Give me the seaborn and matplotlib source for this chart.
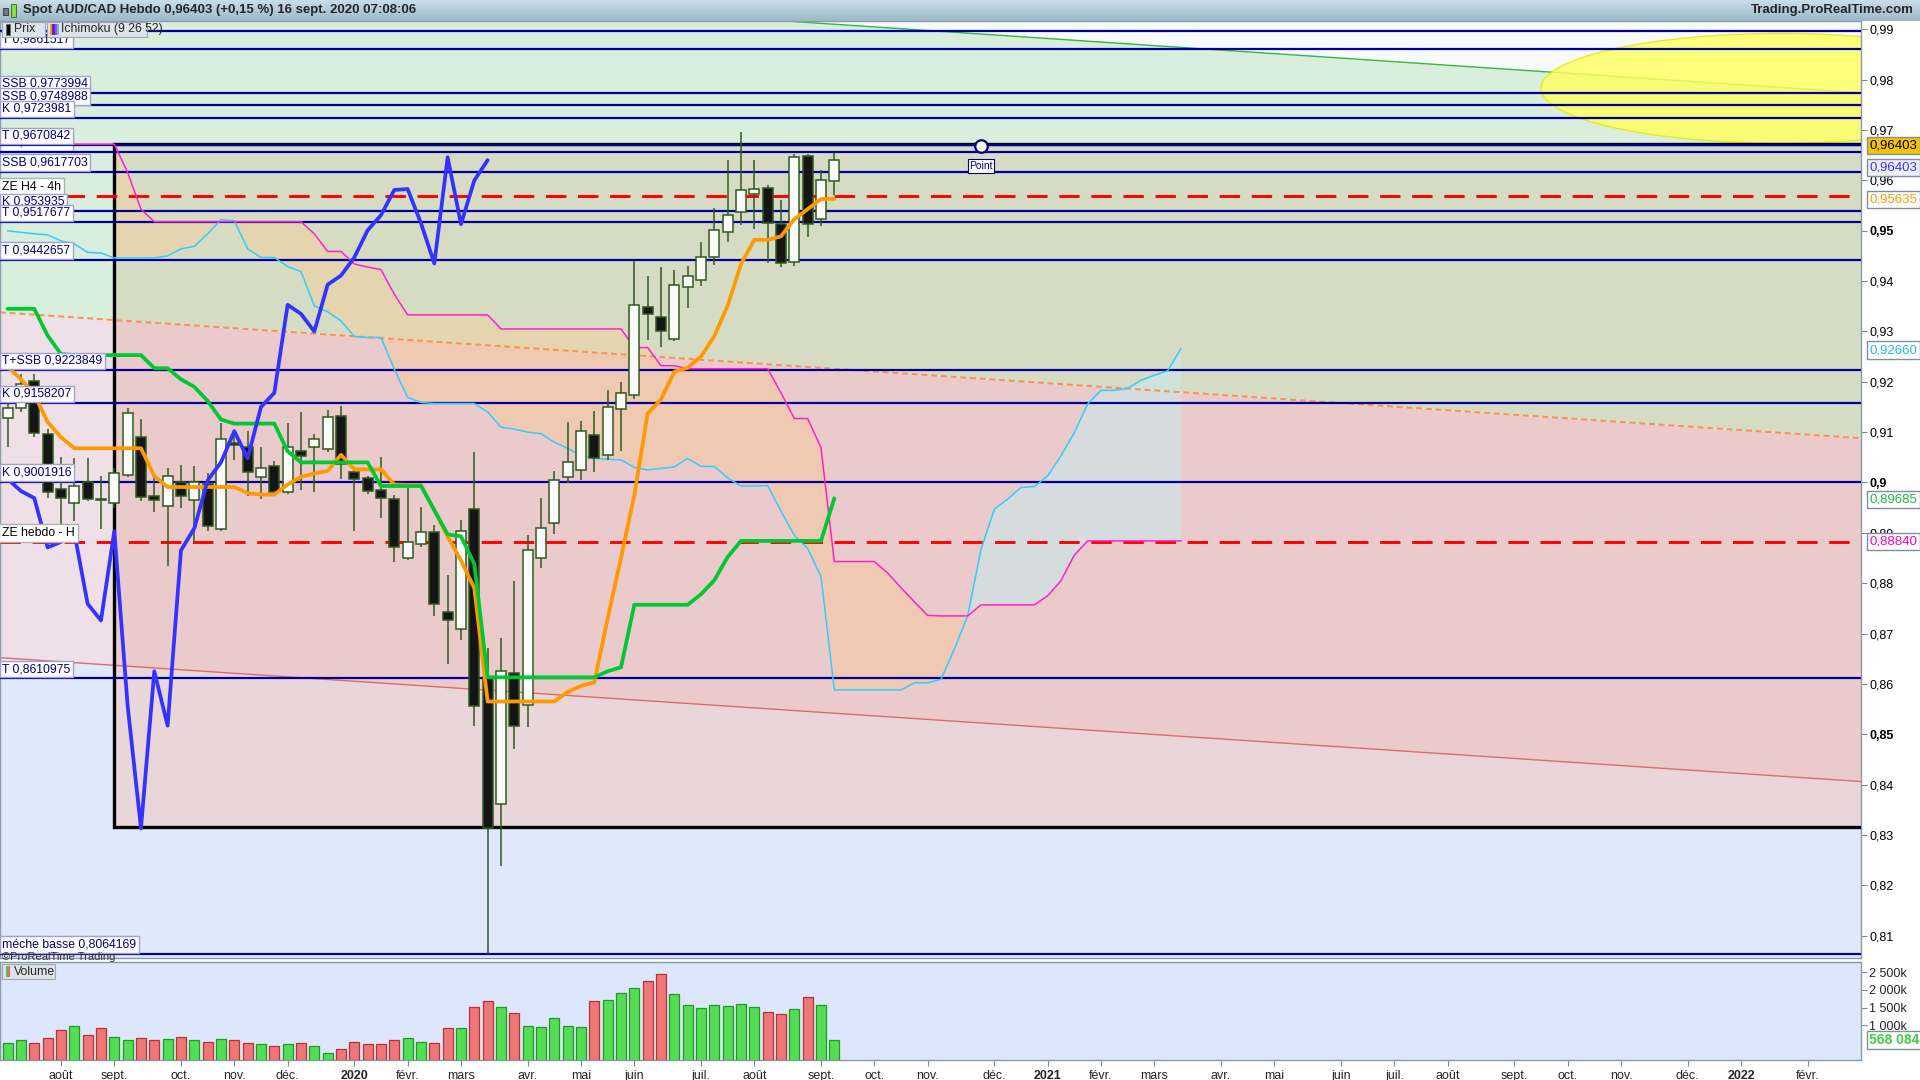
import numpy as np
import pandas as pd
import seaborn as sns
import matplotlib
matplotlib.use('Agg')
import matplotlib.pyplot as plt
import matplotlib.dates as mdates
from matplotlib.patches import Rectangle, Ellipse
from matplotlib.transforms import blended_transform_factory
from matplotlib.colors import LinearSegmentedColormap

# weekly AUD/CAD candles, first bar = week of 2019-07-08
first_week = '2019-07-08'
opens = [0.9129, 0.9147, 0.9202, 0.9096, 0.8987, 0.8959, 0.9001, 0.8967, 0.8959, 0.9015,
         0.9090, 0.8974, 0.8953, 0.9001, 0.8965, 0.8998, 0.8908, 0.9079, 0.9070, 0.9010,
         0.9032, 0.8981, 0.9062, 0.9070, 0.9066, 0.9132, 0.9021, 0.9009, 0.8985, 0.8968,
         0.8851, 0.8878, 0.8901, 0.8742, 0.8709, 0.8948, 0.8613, 0.8361, 0.8621, 0.8559,
         0.8851, 0.8920, 0.9011, 0.9025, 0.9094, 0.9054, 0.9146, 0.9174, 0.9349, 0.9329,
         0.9285, 0.9389, 0.9403, 0.9447, 0.9497, 0.9537, 0.9573, 0.9585, 0.9513, 0.9437,
         0.9648, 0.9523, 0.9598]
highs = [0.9160, 0.9215, 0.9215, 0.9107, 0.9051, 0.9048, 0.9048, 0.9013, 0.9029, 0.9147,
         0.9127, 0.9011, 0.9028, 0.9035, 0.9032, 0.9018, 0.9119, 0.9103, 0.9103, 0.9070,
         0.9043, 0.9118, 0.9140, 0.9096, 0.9144, 0.9151, 0.9030, 0.9012, 0.9050, 0.8975,
         0.8989, 0.8952, 0.8915, 0.8817, 0.8926, 0.9060, 0.8672, 0.8691, 0.8805, 0.8895,
         0.8969, 0.9022, 0.9120, 0.9123, 0.9143, 0.9183, 0.9200, 0.9440, 0.9410, 0.9428,
         0.9422, 0.9430, 0.9477, 0.9545, 0.9641, 0.9696, 0.9641, 0.9591, 0.9561, 0.9653,
         0.9653, 0.9620, 0.9655]
lows = [0.9071, 0.9140, 0.9090, 0.8970, 0.8915, 0.8923, 0.8963, 0.8908, 0.8950, 0.9010,
        0.8963, 0.8942, 0.8834, 0.8950, 0.8882, 0.8903, 0.8904, 0.9045, 0.8974, 0.8967,
        0.8978, 0.8978, 0.8985, 0.8982, 0.9060, 0.9006, 0.8903, 0.8978, 0.8930, 0.8843,
        0.8846, 0.8871, 0.8735, 0.8640, 0.8687, 0.8517, 0.8064, 0.8238, 0.8470, 0.8514,
        0.8831, 0.8897, 0.8999, 0.9005, 0.9020, 0.9045, 0.9062, 0.9165, 0.9284, 0.9269,
        0.9281, 0.9346, 0.9390, 0.9432, 0.9478, 0.9511, 0.9503, 0.9436, 0.9428, 0.9430,
        0.9487, 0.9510, 0.9571]
closes = [0.9147, 0.9195, 0.9099, 0.8981, 0.8970, 0.8994, 0.8967, 0.8965, 0.9018, 0.9138,
          0.8972, 0.8965, 0.9013, 0.8973, 0.9001, 0.8913, 0.9086, 0.9075, 0.9021, 0.9029,
          0.8981, 0.9070, 0.9053, 0.9086, 0.9130, 0.9037, 0.9007, 0.8983, 0.8969, 0.8871,
          0.8882, 0.8901, 0.8759, 0.8726, 0.8903, 0.8557, 0.8313, 0.8625, 0.8517, 0.8865,
          0.8909, 0.9004, 0.9040, 0.9102, 0.9048, 0.9150, 0.9178, 0.9353, 0.9335, 0.9300,
          0.9393, 0.9411, 0.9447, 0.9501, 0.9531, 0.9581, 0.9583, 0.9515, 0.9435, 0.9646,
          0.9513, 0.9600, 0.96403]
volumes = [502e3, 568e3, 502e3, 644e3, 852e3, 966e3, 729e3, 928e3, 672e3, 587e3,
           644e3, 587e3, 616e3, 672e3, 587e3, 530e3, 616e3, 587e3, 502e3, 473e3,
           417e3, 473e3, 502e3, 417e3, 218e3, 331e3, 530e3, 473e3, 473e3, 587e3,
           644e3, 530e3, 502e3, 928e3, 928e3, 1525e3, 1695e3, 1525e3, 1354e3, 985e3,
           956e3, 1212e3, 985e3, 956e3, 1695e3, 1724e3, 1922e3, 2064e3, 2263e3, 2462e3,
           1894e3, 1581e3, 1496e3, 1581e3, 1553e3, 1610e3, 1525e3, 1383e3, 1326e3, 1468e3,
           1809e3, 1581e3, 568084]

# Ichimoku (9 26 52)
tenkan = [0.9230, 0.9205, 0.9175, 0.9120, 0.9090, 0.9068, 0.9068, 0.9068, 0.9068, 0.9068,
          0.9068, 0.9013, 0.8991, 0.8991, 0.8991, 0.8991, 0.8991, 0.8991, 0.8979, 0.8976,
          0.8976, 0.8996, 0.9011, 0.9018, 0.9023, 0.9055, 0.9026, 0.9026, 0.9026, 0.8996,
          0.8995, 0.8995, 0.8945, 0.8893, 0.8845, 0.8790, 0.8565, 0.8565, 0.8565, 0.8565,
          0.8565, 0.8565, 0.8584, 0.8596, 0.8603, 0.8730, 0.8850, 0.8975, 0.9137, 0.9165,
          0.9220, 0.9228, 0.9250, 0.9291, 0.9351, 0.9434, 0.9482, 0.9482, 0.9489, 0.9523,
          0.9543, 0.9563, 0.95635]
kijun = [0.9345, 0.9345, 0.9345, 0.9292, 0.9255, 0.9253, 0.9253, 0.9253, 0.9253, 0.9253,
         0.9253, 0.9227, 0.9227, 0.9205, 0.9190, 0.9162, 0.9125, 0.9117, 0.9117, 0.9117,
         0.9117, 0.9062, 0.9040, 0.9040, 0.9040, 0.9040, 0.9040, 0.9040, 0.8993, 0.8993,
         0.8993, 0.8993, 0.8945, 0.8897, 0.8893, 0.8838, 0.8613, 0.8613, 0.8613, 0.8613,
         0.8613, 0.8613, 0.8613, 0.8613, 0.8613, 0.8625, 0.8633, 0.8757, 0.8757, 0.8757,
         0.8757, 0.8757, 0.8778, 0.8806, 0.8852, 0.8884, 0.8884, 0.8884, 0.8884, 0.8884,
         0.8884, 0.8884, 0.89685]
ssa = [0.9500, 0.9497, 0.9494, 0.9492, 0.9480, 0.9474, 0.9457, 0.9456, 0.9446, 0.9446,
       0.9446, 0.9446, 0.9450, 0.9464, 0.9469, 0.9494, 0.9522, 0.9520, 0.9464, 0.9447,
       0.9447, 0.9429, 0.9419, 0.9351, 0.9339, 0.9321, 0.9290, 0.9288, 0.9288, 0.9225,
       0.9169, 0.9159, 0.9157, 0.9157, 0.9157, 0.9157, 0.9140, 0.9110, 0.9106, 0.9100,
       0.9097, 0.9080, 0.9068, 0.9053, 0.9048, 0.9046, 0.9045, 0.9030, 0.9025, 0.9028,
       0.9031, 0.9048, 0.9032, 0.9032, 0.9009, 0.8993, 0.8993, 0.8994, 0.8943, 0.8895,
       0.8869, 0.8813, 0.8588, 0.8588, 0.8588, 0.8588, 0.8588, 0.8588, 0.8602, 0.8602,
       0.8609, 0.8669, 0.8735, 0.8867, 0.8947, 0.8967, 0.8990, 0.8992, 0.9013, 0.9053,
       0.9099, 0.9156, 0.9183, 0.9183, 0.9187, 0.9203, 0.9213, 0.9222, 0.9266]
ssb = [0.9672, 0.9672, 0.9672, 0.9672, 0.9672, 0.9672, 0.9672, 0.9672, 0.9672, 0.9616,
       0.9543, 0.9518, 0.9518, 0.9518, 0.9518, 0.9518, 0.9518, 0.9518, 0.9518, 0.9518,
       0.9518, 0.9518, 0.9518, 0.9494, 0.9459, 0.9459, 0.9434, 0.9428, 0.9423, 0.9374,
       0.9333, 0.9333, 0.9333, 0.9333, 0.9333, 0.9333, 0.9333, 0.9305, 0.9305, 0.9305,
       0.9305, 0.9305, 0.9305, 0.9305, 0.9305, 0.9305, 0.9305, 0.9268, 0.9268, 0.9232,
       0.9232, 0.9226, 0.9226, 0.9226, 0.9226, 0.9226, 0.9226, 0.9226, 0.9178, 0.9127,
       0.9127, 0.9069, 0.8843, 0.8843, 0.8843, 0.8843, 0.8820, 0.8791, 0.8763, 0.8736,
       0.8735, 0.8735, 0.8735, 0.8757, 0.8757, 0.8757, 0.8757, 0.8757, 0.8775, 0.8805,
       0.8856, 0.8884, 0.8884, 0.8884, 0.8884, 0.8884, 0.8884, 0.8884, 0.8884]
chikou_shift = 26
cloud_start = 8

# horizontal levels drawn by hand on the chart
level_values = [0.9897, 0.9861517, 0.9773994, 0.9748988, 0.9723981, 0.9670842, 0.9657,
                0.9617703, 0.953935, 0.9517677, 0.9442657, 0.9223849, 0.9158207,
                0.9001916, 0.8610975, 0.8064169]
level_labels = ['', 'T 0,9861517', 'SSB 0,9773994', 'SSB 0,9748988', 'K 0,9723981',
                'T 0,9670842', 'T 0,9656867', 'SSB 0,9617703', 'K 0,953935', 'T 0,9517677',
                'T 0,9442657', 'T+SSB 0,9223849', 'K 0,9158207', 'K 0,9001916',
                'T 0,8610975', 'méche basse 0,8064169']
ze_values = [0.9569, 0.8881]
ze_labels = ['ZE H4 - 4h', 'ZE hebdo - H']

# trend lines and zones
trend_dates = ['2019-07-04', '2022-03-07']
green_trend = [1.0021, 0.9774]
orange_trend = [0.9338, 0.9088]
red_trend = [0.8652, 0.8406]
box_start = '2019-09-02'
box_top, box_bottom = 0.9673, 0.8316
point_date, point_price = '2020-11-30', 0.9669
ellipse_date, ellipse_price = '2022-01-24', 0.9783
ellipse_days, ellipse_height = 252, 0.0218

price_ticks = [0.99, 0.98, 0.97, 0.96, 0.95, 0.94, 0.93, 0.92, 0.91, 0.90,
               0.89, 0.88, 0.87, 0.86, 0.85, 0.84, 0.83, 0.82, 0.81]
price_tick_labels = ['0,99', '0,98', '0,97', '0,96', '0,95', '0,94', '0,93', '0,92', '0,91', '0,9',
                     '0,89', '0,88', '0,87', '0,86', '0,85', '0,84', '0,83', '0,82', '0,81']
bold_ticks = ['0,95', '0,9', '0,85']
right_values = ['0,96403', '0,96403', '0,95635', '0,92660', '0,89685', '0,88840']
right_pos = [0.9669, 0.9625, 0.9562, 0.9263, 0.8966, 0.8883]
right_text_colors = ['black', '#3333ff', '#ff9900', '#22bbee', '#22bb44', '#ff00cc']
right_face = ['#f5c400', '#eef0fb', 'white', 'white', 'white', 'white']
vol_ticks = [1000000, 1500000, 2000000, 2500000]
vol_tick_labels = ['1 000k', '1 500k', '2 000k', '2 500k']
month_labels = ['août', 'sept.', 'oct.', 'nov.', 'déc.', '2020', 'févr.', 'mars', 'avr.', 'mai',
                'juin', 'juil.', 'août', 'sept.', 'oct.', 'nov.', 'déc.', '2021', 'févr.', 'mars',
                'avr.', 'mai', 'juin', 'juil.', 'août', 'sept.', 'oct.', 'nov.', 'déc.', '2022',
                'févr.']

sns.set_style('white')
plt.rcParams['font.family'] = ['Liberation Sans', 'DejaVu Sans']

def dnum(d):
    return mdates.date2num(pd.Timestamp(d).to_pydatetime())

dates = pd.date_range(first_week, periods=len(closes), freq='7D')
x = mdates.date2num(dates.to_pydatetime())
cloud_x = mdates.date2num(pd.date_range(first_week, periods=len(ssa), freq='7D').to_pydatetime())
tx = [dnum(d) for d in trend_dates]
o, h, l, c = map(np.array, (opens, highs, lows, closes))

fig = plt.figure(figsize=(19.2, 10.8), dpi=100)
fig.patch.set_facecolor('white')
ax = fig.add_axes([0.0, 0.1133, 0.9693, 0.8674])
axv = fig.add_axes([0.0, 0.0182, 0.9693, 0.0906])
ax.set_xlim(tx[0], tx[1])
axv.set_xlim(tx[0], tx[1])
ax.set_ylim(0.80562, 0.99170)
ax.set_facecolor('#dfe8fc')

# background zones
ax.fill_between(tx, red_trend, orange_trend, color='#eee0e6', lw=0, zorder=0.1)
ax.fill_between(tx, orange_trend, green_trend, color='#d9eedd', lw=0, zorder=0.1)
ax.fill_between(tx, green_trend, [1.2, 1.2], color='#f8fafe', lw=0, zorder=0.1)
clip = Rectangle((dnum(box_start), box_bottom), tx[1] - dnum(box_start) + 30, box_top - box_bottom,
                 transform=ax.transData)
for lo, hi, col in [(orange_trend, [1.2, 1.2], '#d6dcc4'), (red_trend, orange_trend, '#eacaca'),
                    ([0.7, 0.7], red_trend, '#e8d6da')]:
    f = ax.fill_between(tx, lo, hi, color=col, lw=0, zorder=0.2)
    f.set_clip_path(clip)

# cloud
ssa_a, ssb_a = np.array(ssa[cloud_start:]), np.array(ssb[cloud_start:])
cx = cloud_x[cloud_start:]
ax.fill_between(cx, ssa_a, ssb_a, where=ssb_a >= ssa_a, interpolate=True,
                color='#fcc890', alpha=0.38, lw=0, zorder=1)
ax.fill_between(cx, ssa_a, ssb_a, where=ssa_a > ssb_a, interpolate=True,
                color='#c6eaee', alpha=0.55, lw=0, zorder=1)

# trend lines
ax.plot(tx, green_trend, color='#33bb33', lw=1.0, zorder=1.5)
ax.plot(tx, orange_trend, color='#ff8f4a', lw=1.4, dashes=(3, 2), zorder=1.5)
ax.plot(tx, red_trend, color='#e06a6a', lw=1.0, zorder=1.5)
ax.add_patch(Ellipse((dnum(ellipse_date), ellipse_price), ellipse_days, ellipse_height,
                     facecolor='#ffff5e', edgecolor='#e8e800', alpha=0.82, lw=1, zorder=1.6))

# levels
lab_tr = blended_transform_factory(ax.transAxes, ax.transData)
for v in level_values:
    ax.axhline(v, color='#000099', lw=1.6, zorder=3)
for v in ze_values:
    ax.axhline(v, color='#ff0000', lw=2.1, dashes=(7, 4), zorder=3)
ax.add_patch(Rectangle((dnum(box_start), box_bottom), tx[1] - dnum(box_start) + 30,
                       box_top - box_bottom, fill=False, ec='black', lw=2.4, zorder=2.9))

for i, (v, t) in enumerate(zip(level_values, level_labels)):
    if not t:
        continue
    z = 2.8 if t == 'T 0,9656867' else 7 + i * 0.01
    ax.annotate(t, (0.0012, v), xycoords=lab_tr, xytext=(0, 2.2), textcoords='offset points',
                ha='left', va='bottom', fontsize=8.8, color='#000080', zorder=z,
                bbox=dict(boxstyle='square,pad=0.18', fc='white', ec='#a0a0d8', lw=1))
for v, t in zip(ze_values, ze_labels):
    ax.annotate(t, (0.0012, v), xycoords=lab_tr, xytext=(0, 2.2), textcoords='offset points',
                ha='left', va='bottom', fontsize=8.8, color='black', zorder=7,
                bbox=dict(boxstyle='square,pad=0.25', fc='white', ec='#b0b0b0', lw=1))

# ichimoku thin lines
sns.lineplot(x=cloud_x, y=ssa, ax=ax, color='#33ccff', lw=1.1, legend=False, zorder=3.2)
sns.lineplot(x=cloud_x[5:], y=ssb[5:], ax=ax, color='#ff22cc', lw=1.1, legend=False, zorder=3.2)

# candles
body_w = 5.3
ax.vlines(x, l, h, color='#2e5a1e', lw=1.1, zorder=4)
up = c >= o
ax.bar(x, np.maximum(np.abs(c - o), 0.00025), bottom=np.minimum(o, c), width=body_w,
       color=np.where(up, '#fbfbfb', '#151515'), edgecolor='#2e5a1e', lw=1.1, zorder=4.1)

# ichimoku thick lines
sns.lineplot(x=x, y=tenkan, ax=ax, color='#ff9900', lw=2.7, legend=False, zorder=5)
sns.lineplot(x=x, y=kijun, ax=ax, color='#00c832', lw=2.7, legend=False, zorder=5)
sns.lineplot(x=x[:len(closes) - chikou_shift], y=closes[chikou_shift:], ax=ax,
             color='#3333ff', lw=2.7, legend=False, zorder=5)

# point marker
ax.plot([dnum(point_date)], [point_price], marker='o', ms=9, mfc='white', mec='#000080',
        mew=1.6, zorder=8)
ax.annotate('Point', (dnum(point_date), point_price), xytext=(0, -11), textcoords='offset points',
            ha='center', va='top', fontsize=7.5, color='#000080', zorder=8,
            bbox=dict(boxstyle='square,pad=0.15', fc='white', ec='#000080', lw=0.8))

# price axis on the right
ax.set_xlabel('')
ax.set_ylabel('')
ax.yaxis.tick_right()
ax.set_yticks(price_ticks)
ax.set_yticklabels(price_tick_labels)
for tl in ax.get_yticklabels():
    if tl.get_text() in bold_ticks:
        tl.set_fontweight('bold')
        tl.set_fontsize(10)
ax.tick_params(axis='y', right=True, direction='out', length=4, pad=2, labelsize=9,
               color='#7a8a99', labelcolor='black')
ax.tick_params(axis='x', bottom=False, labelbottom=False)
for sp in ax.spines.values():
    sp.set_color('#8a9aa8')
    sp.set_linewidth(1)
for v, t, tc, fc in zip(right_pos, right_values, right_text_colors, right_face):
    ax.text(1.0045, v, t, transform=lab_tr, ha='left', va='center', fontsize=9.5, color=tc,
            clip_on=False, zorder=9,
            bbox=dict(boxstyle='square,pad=0.2', fc=fc, ec='#7f8f9f', lw=1))

# volume panel
axv.set_facecolor('#dce6fc')
axv.bar(x, volumes, width=body_w, color=np.where(up, '#55dd55', '#ee7777'),
        edgecolor=np.where(up, '#229922', '#b83333'), lw=0.9, zorder=3)
axv.set_ylim(0, 2780000)
axv.yaxis.tick_right()
axv.set_yticks(vol_ticks)
axv.set_yticklabels(vol_tick_labels)
axv.tick_params(axis='y', right=True, direction='out', length=4, pad=2, labelsize=9,
                color='#7a8a99')
axv.text(1.0045, volumes[-1], '568 084', transform=blended_transform_factory(axv.transAxes, axv.transData),
         ha='left', va='center', fontsize=10, fontweight='bold', color='#44cc44', clip_on=False,
         bbox=dict(boxstyle='square,pad=0.15', fc='white', ec='#7f8f9f', lw=1))
month_starts = pd.date_range('2019-08-01', '2022-02-28', freq='WOM-1MON')
axv.set_xticks(mdates.date2num(month_starts.to_pydatetime()))
axv.set_xticklabels(month_labels)
for tl in axv.get_xticklabels():
    if tl.get_text().isdigit():
        tl.set_fontweight('bold')
        tl.set_fontsize(10.5)
axv.tick_params(axis='x', bottom=True, direction='out', length=4, pad=3, labelsize=9,
                color='#7a8a99')
for sp in axv.spines.values():
    sp.set_color('#8a9aa8')
    sp.set_linewidth(1)

# title bar
tb = fig.add_axes([0, 0.9807, 1, 0.0193])
tb.imshow(np.linspace(0, 1, 30).reshape(-1, 1), aspect='auto', extent=[0, 1, 0, 1],
          cmap=LinearSegmentedColormap.from_list('tb', ['#c9dde8', '#9cb8c8']))
tb.set_axis_off()
tb.text(0.0118, 0.5, 'Spot AUD/CAD Hebdo 0,96403 (+0,15 %) 16 sept. 2020 07:08:06',
        transform=tb.transAxes, va='center', ha='left', fontsize=9.5, fontweight='bold')
tb.text(0.997, 0.5, 'Trading.ProRealTime.com', transform=tb.transAxes, va='center',
        ha='right', fontsize=9.5, fontweight='bold')
tb.add_patch(Rectangle((0.0018, 0.28), 0.0026, 0.35, transform=tb.transAxes, fc='#777777',
                       ec='#333333', lw=0.6))
tb.add_patch(Rectangle((0.0055, 0.2), 0.003, 0.6, transform=tb.transAxes, fc='#88dd44',
                       ec='#336622', lw=0.6))

# legend boxes
fig.patches.append(Rectangle((0.0013, 0.9660), 0.0222, 0.0135, transform=fig.transFigure,
                             fc='#dde3e8', ec='#9aa8b4', lw=0.8, zorder=10))
fig.patches.append(Rectangle((0.0030, 0.9680), 0.0022, 0.0095, transform=fig.transFigure,
                             fc='black', ec='#666666', lw=0.5, zorder=11))
fig.text(0.0075, 0.9727, 'Prix', fontsize=8.8, va='center', ha='left', zorder=12)
fig.patches.append(Rectangle((0.0245, 0.9660), 0.0522, 0.0135, transform=fig.transFigure,
                             fc='#dde3e8', ec='#9aa8b4', lw=0.8, zorder=10))
for k, col in enumerate(['#ff9900', '#3333ff', '#ff22cc', '#33ccff']):
    fig.patches.append(Rectangle((0.0262 + k * 0.0011, 0.9680), 0.0011, 0.0095,
                                 transform=fig.transFigure, fc=col, lw=0, zorder=11))
fig.text(0.0318, 0.9727, 'Ichimoku (9 26 52)', fontsize=8.8, va='center', ha='left', zorder=12)

fig.text(0.0008, 0.1142, '©ProRealTime Trading', fontsize=8, va='center', ha='left',
         color='#333333', zorder=12)
fig.patches.append(Rectangle((0.0008, 0.0935), 0.0278, 0.0138, transform=fig.transFigure,
                             fc='#dde3e8', ec='#9aa8b4', lw=0.8, zorder=10))
fig.patches.append(Rectangle((0.0030, 0.0958), 0.0012, 0.0095, transform=fig.transFigure,
                             fc='#44cc44', lw=0, zorder=11))
fig.patches.append(Rectangle((0.0042, 0.0958), 0.0012, 0.0095, transform=fig.transFigure,
                             fc='#ee6666', lw=0, zorder=11))
fig.text(0.0072, 0.1004, 'Volume', fontsize=8.8, va='center', ha='left', zorder=12)

fig.savefig('out.png', dpi=100)
